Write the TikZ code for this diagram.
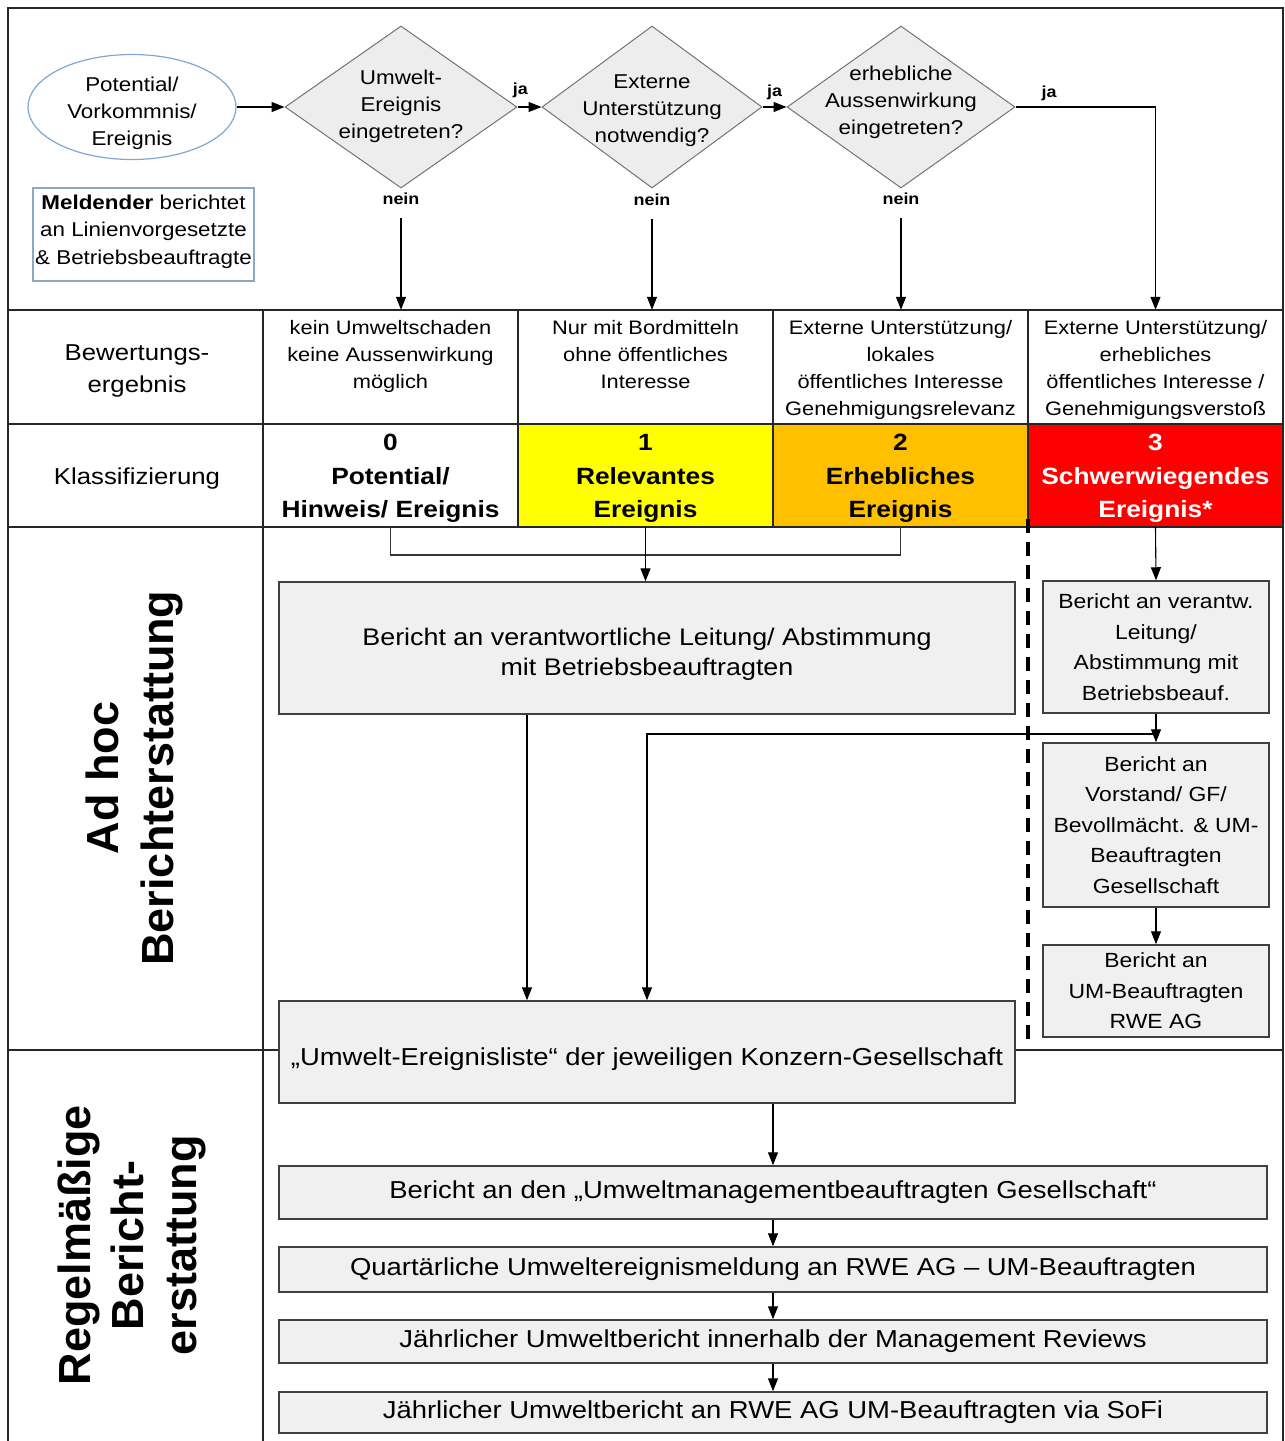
\documentclass[tikz,border=0pt]{standalone}
\usepackage{fontspec}
\setmainfont{Liberation Sans}[FakeStretch=1.12]
\newfontfamily\rotfont{Liberation Sans}
\usetikzlibrary{shapes.geometric,arrows.meta,calc}
\newcommand\fsz[2]{\fontsize{#1}{#2}\selectfont}
\definecolor{ylw}{HTML}{FFFF00}
\definecolor{org}{HTML}{FFC000}
\definecolor{rd}{HTML}{FF0000}
\definecolor{boxgray}{HTML}{F0F0F0}
\definecolor{diagray}{HTML}{EDEDED}
\definecolor{ellblue}{HTML}{7FA7D3}
\definecolor{meldblue}{HTML}{8BA9C6}
\begin{document}
\begin{tikzpicture}[x=1pt,y=-1pt,
  frameline/.style={line width=2.2pt, draw=black!85},
  gridline/.style={line width=1.8pt, draw=black!85},
  arr/.style={draw=black, line width=1.1pt, -{Triangle[length=13pt,width=10pt]}},
  conn/.style={draw=black!80, line width=1.1pt},
  box/.style={draw=black!75, line width=1.5pt, fill=boxgray, inner sep=0pt, align=center},
  dia/.style={diamond, draw=black!55, line width=1pt, fill=diagray, inner sep=0pt},
  txt/.style={align=center, inner sep=0pt},
  yn/.style={font=\bfseries\fsz{16}{18}, inner sep=0pt},
  cls/.style={minimum width=255pt, minimum height=103pt, inner sep=0pt},
  clstxt/.style={txt, font=\bfseries\fsz{23.5}{33.5}},
  cellbox/.style={minimum width=255pt, minimum height=114pt, inner sep=0pt},
  celltxt/.style={txt, anchor=north, font=\fsz{19.5}{27}},
]
\useasboundingbox (0,0) rectangle (1285,1441);

% classification cells (fills)
\node[cls, fill=white] (k0) at (390.5,475.5) {};
\node[cls, fill=ylw] (k1) at (645.5,475.5) {};
\node[cls, fill=org] (k2) at (900.5,475.5) {};
\node[cls, fill=rd] (k3) at (1155.5,475.5) {};
\node[clstxt] (k0t) at (390.5,478.5) {0\\Potential/\\Hinweis/ Ereignis};
\node[clstxt] (k1t) at (645.5,478.5) {1\\Relevantes\\Ereignis};
\node[clstxt] (k2t) at (900.5,478.5) {2\\Erhebliches\\Ereignis};
\node[clstxt, text=white] (k3t) at (1155.5,478.5) {3\\Schwerwiegendes\\Ereignis*};

% assessment cells
\node[cellbox] (c1) at (390.5,367) {};
\node[cellbox] (c2) at (645.5,367) {};
\node[cellbox] (c3) at (900.5,367) {};
\node[cellbox] (c4) at (1155.5,367) {};
\node[celltxt] (c1t) at (390.5,320) {kein Umweltschaden\\keine Aussenwirkung\\möglich};
\node[celltxt] (c2t) at (645.5,320) {Nur mit Bordmitteln\\ohne öffentliches\\Interesse};
\node[celltxt] (c3t) at (900.5,320) {Externe Unterstützung/\\lokales\\öffentliches Interesse\\Genehmigungsrelevanz};
\node[celltxt] (c4t) at (1155.5,320) {Externe Unterstützung/\\erhebliches\\öffentliches Interesse /\\Genehmigungsverstoß};

% grid
\draw[frameline] (8,1441) -- (8,8) -- (1283,8) -- (1283,1441);
\draw[gridline] (8,310) -- (1283,310);
\draw[gridline] (8,424) -- (1283,424);
\draw[gridline] (8,527) -- (1283,527);
\draw[gridline] (8,1050) -- (1283,1050);
\draw[gridline] (263,310) -- (263,1441);
\draw[gridline] (518,310) -- (518,527);
\draw[gridline] (773,310) -- (773,527);
\draw[gridline] (1028,310) -- (1028,527);

% left labels
\node[txt, font=\fsz{23}{32}] (lb1) at (137,371) {Bewertungs-\\ergebnis};
\node[txt, font=\fsz{23}{32}] (lb2) at (137,479) {Klassifizierung};
\node[txt, rotate=90, font=\rotfont\bfseries\fsz{45}{55}] (lad) at (134,778) {Ad hoc\\Berichterstattung};
\node[txt, rotate=90, font=\rotfont\bfseries\fsz{45}{53}] (lreg) at (132,1245) {Regelmäßige\\Bericht-\\erstattung};

% top flow
\node[ellipse, draw=ellblue, line width=1.2pt, minimum width=208pt, minimum height=105pt, inner sep=0pt] (ell) at (132,107) {};
\node[txt, font=\fsz{20}{27}] (ellt) at (132,113.5) {Potential/\\Vorkommnis/\\Ereignis};
\node[draw=meldblue, line width=1.2pt, minimum width=221pt, minimum height=93pt, inner sep=0pt] (meld) at (143.5,234.5) {};
\node[txt, font=\fsz{20}{27.5}] (meldt) at (143.5,231.5) {\textbf{Meldender} berichtet\\an Linienvorgesetzte\\\& Betriebsbeauftragte};

\node[dia, minimum width=232pt, minimum height=162pt] (d1) at (401,107) {};
\node[dia, minimum width=220pt, minimum height=162pt] (d2) at (652,107) {};
\node[dia, minimum width=228pt, minimum height=162pt] (d3) at (901,107) {};
\node[txt, font=\fsz{20}{27}] (d1t) at (401,106) {Umwelt-\\Ereignis\\eingetreten?};
\node[txt, font=\fsz{20}{27}] (d2t) at (652,111) {Externe\\Unterstützung\\notwendig?};
\node[txt, font=\fsz{20}{27}] (d3t) at (901,102) {erhebliche\\Aussenwirkung\\eingetreten?};

\node[yn, minimum height=38pt] (n1) at (401,199) {nein};
\node[yn, minimum height=38pt] (n2) at (652,200) {nein};
\node[yn, minimum height=38pt] (n3) at (901,199) {nein};

\draw[arr] (ell.east) -- (d1.west);
\draw[arr] (d1.east) -- node[yn, pos=0.12, above=9pt] {ja} (d2.west);
\draw[arr] (d2.east) -- node[yn, pos=0.5, above=7pt] {ja} (d3.west);
\draw[arr] (d3.east) -| node[yn, pos=0.12, above=6pt] {ja} (c4.north);
\draw[arr] (n1.south) -- (n1.south |- c1.north);
\draw[arr] (n2.south) -- (n2.south |- c2.north);
\draw[arr] (n3.south) -- (n3.south |- c3.north);

% ad hoc section
\draw[line width=3.5pt, dash pattern=on 14pt off 9pt] (1028,519) -- (1028,1046);

\node[box, minimum width=736pt, minimum height=132pt] (adhoc) at (647,648) {};
\node[txt, font=\fsz{24}{30}] (adhoct) at (647,654) {Bericht an verantwortliche Leitung/ Abstimmung\\mit Betriebsbeauftragten};
\node[box, minimum width=226pt, minimum height=132pt, font=\fsz{20.5}{30.5}] (r1) at (1156,647) {Bericht an verantw.\\Leitung/\\Abstimmung mit\\Betriebsbeauf.};
\node[box, minimum width=226pt, minimum height=164pt, font=\fsz{20.5}{30.5}] (r2) at (1156,825) {Bericht an\\Vorstand/ GF/\\Bevollmächt. \& UM-\\Beauftragten\\Gesellschaft};
\node[box, minimum width=226pt, minimum height=92pt, font=\fsz{20.5}{30.5}] (r3) at (1156,991) {Bericht an\\UM-Beauftragten\\RWE AG};
\node[box, minimum width=736pt, minimum height=102pt] (ev) at (647,1052) {};
\node[txt, font=\fsz{24.5}{30}] (evt) at (647,1059) {„Umwelt-Ereignisliste“ der jeweiligen Konzern-Gesellschaft};

\coordinate (mg) at (0,555);
\coordinate (jn) at (0,734);
\draw[conn] (k0.south) -- (k0.south |- mg) -- (k2.south |- mg) -- (k2.south);
\draw[arr] (k1.south) -- (k1.south |- adhoc.north);
\draw[arr] (k3.south) -- (r1.north);
\draw[arr] (r1.south) -- (r2.north);
\draw[arr] (r2.south) -- (r3.north);
\draw[arr] (r1.south |- jn) -| (ev.north);
\draw[arr] ([xshift=-120pt]adhoc.south) -- ([xshift=-120pt]ev.north);

% regular reporting
\node[box, minimum width=988pt, minimum height=53pt, font=\fsz{24.5}{30}] (b1) at (773,1192.5) {Bericht an den „Umweltmanagementbeauftragten Gesellschaft“};
\node[box, minimum width=988pt, minimum height=45pt, font=\fsz{24.5}{30}] (b2) at (773,1269.5) {Quartärliche Umweltereignismeldung an RWE AG – UM-Beauftragten};
\node[box, minimum width=988pt, minimum height=43pt, font=\fsz{24.5}{30}] (b3) at (773,1341.5) {Jährlicher Umweltbericht innerhalb der Management Reviews};
\node[box, minimum width=988pt, minimum height=41pt, font=\fsz{24.5}{30}] (b4) at (773,1412.5) {Jährlicher Umweltbericht an RWE AG UM-Beauftragten via SoFi};

\draw[arr] (ev.south -| b1.north) -- (b1.north);
\draw[arr] (b1.south) -- (b2.north);
\draw[arr] (b2.south) -- (b3.north);
\draw[arr] (b3.south) -- (b4.north);
\end{tikzpicture}
\end{document}
